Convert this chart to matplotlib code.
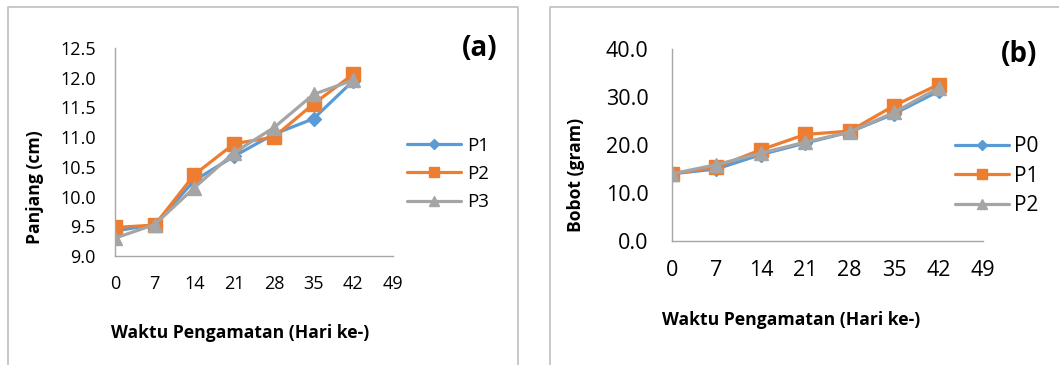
import numpy as np
import matplotlib.pyplot as plt
from matplotlib.lines import Line2D

plt.rcParams['font.family'] = ['Open Sans', 'DejaVu Sans']

# observation days
days = [0, 7, 14, 21, 28, 35, 42]
day_ticks = [0, 7, 14, 21, 28, 35, 42, 49]

# (a) panjang (cm)
len_p1 = [9.42, 9.53, 10.27, 10.68, 11.05, 11.31, 11.95]
len_p2 = [9.48, 9.52, 10.37, 10.89, 11.00, 11.56, 12.06]
len_p3 = [9.30, 9.53, 10.15, 10.74, 11.16, 11.72, 11.96]
len_ticks = [9.0, 9.5, 10.0, 10.5, 11.0, 11.5, 12.0, 12.5]

# (b) bobot (gram)
wt_p0 = [14.0, 15.0, 18.0, 20.4, 22.7, 26.5, 31.2]
wt_p1 = [14.0, 15.4, 19.0, 22.2, 22.9, 28.2, 32.6]
wt_p2 = [14.0, 15.9, 18.3, 20.6, 22.7, 26.8, 31.9]
wt_ticks = [0.0, 10.0, 20.0, 30.0, 40.0]

BLUE = '#5B9BD5'
ORANGE = '#ED7D31'
GRAY = '#A5A5A5'
AXC = '#A6A6A6'
W, H = 1059, 365

fig = plt.figure(figsize=(W / 100, H / 100), dpi=100)

def px_ax(x0, x1, y0, y1):
    # pixel box -> axes
    return fig.add_axes([x0 / W, 1 - y1 / H, (x1 - x0) / W, (y1 - y0) / H])

def style(ax, fs, pad_x, pad_y):
    for s in ['top', 'right']:
        ax.spines[s].set_visible(False)
    for s in ['left', 'bottom']:
        ax.spines[s].set_color(AXC)
        ax.spines[s].set_linewidth(1.0)
    ax.tick_params(axis='x', length=0, labelsize=fs, pad=pad_x)
    ax.tick_params(axis='y', length=0, labelsize=fs, pad=pad_y)

def series(ax, y, color, marker, ms, label):
    ax.plot(days, y, color=color, lw=2.3, marker=marker, ms=ms,
            label=label, solid_capstyle='round', solid_joinstyle='round')

# panel (a)
ax1 = px_ax(115, 393, 48, 256)
series(ax1, len_p1, BLUE, 'D', 7, 'P1')
series(ax1, len_p2, ORANGE, 's', 9.5, 'P2')
series(ax1, len_p3, GRAY, '^', 10, 'P3')
ax1.set_xlim(0, 49)
ax1.set_ylim(9.0, 12.5)
ax1.set_xticks(day_ticks)
ax1.set_yticks(len_ticks)
ax1.set_yticklabels(['{:.1f}'.format(v) for v in len_ticks])
style(ax1, 13, 14, 14)
leg1 = ax1.legend(loc='center left', bbox_to_anchor=(390 / W, 1 - 174 / H),
                  bbox_transform=fig.transFigure, frameon=False, fontsize=13.5,
                  handlelength=2.9, handletextpad=0.3, labelspacing=0.55,
                  markerscale=0.75)
fig.text(480 / W, 1 - 48 / H, '(a)', fontsize=20, fontweight='bold',
         ha='center', va='center')
fig.text(240 / W, 1 - 333 / H, 'Waktu Pengamatan (Hari ke-)', fontsize=12.6,
         fontweight='bold', ha='center', va='center')
fig.text(35 / W, 1 - 187 / H, 'Panjang (cm)', fontsize=12.6, fontweight='bold',
         rotation=90, ha='center', va='center')

# panel (b)
ax2 = px_ax(672, 983, 49, 241)
series(ax2, wt_p0, BLUE, 'D', 7, 'P0')
series(ax2, wt_p1, ORANGE, 's', 9.5, 'P1')
series(ax2, wt_p2, GRAY, '^', 10, 'P2')
ax2.set_xlim(0, 49)
ax2.set_ylim(0, 40)
ax2.set_xticks(day_ticks)
ax2.set_yticks(wt_ticks)
ax2.set_yticklabels(['{:.1f}'.format(v) for v in wt_ticks])
style(ax2, 15.5, 14, 17)
ax2.legend(loc='center left', bbox_to_anchor=(936 / W, 1 - 176 / H),
           bbox_transform=fig.transFigure, frameon=False, fontsize=15,
           handlelength=2.6, handletextpad=0.25, labelspacing=0.4,
           markerscale=0.75)
fig.text(1019 / W, 1 - 54 / H, '(b)', fontsize=20, fontweight='bold',
         ha='center', va='center')
fig.text(791 / W, 1 - 320 / H, 'Waktu Pengamatan (Hari ke-)', fontsize=12.6,
         fontweight='bold', ha='center', va='center')
fig.text(576 / W, 1 - 175 / H, 'Bobot (gram)', fontsize=12.6, fontweight='bold',
         rotation=90, ha='center', va='center')

# chart area borders (cut off at bottom / right like the source)
def border(xs, ys):
    fig.add_artist(Line2D([x / W for x in xs], [1 - y / H for y in ys],
                          color='#BFBFBF', lw=1.2, transform=fig.transFigure))

border([8, 8, 518, 518], [365, 7, 7, 365])
border([550, 550, 1059], [365, 7, 7])

fig.savefig('out.png', dpi=100)
